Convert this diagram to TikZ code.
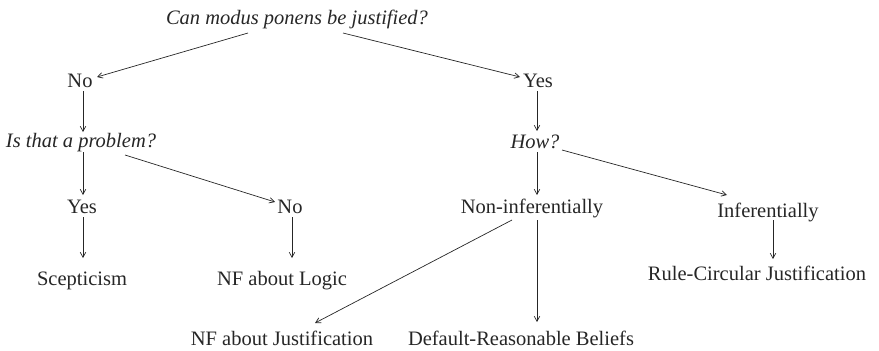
\documentclass[tikz,border=0pt]{standalone}
\usepackage{fontspec}
\setmainfont{Liberation Serif}
\usetikzlibrary{arrows.meta,calc}
\begin{document}
\begin{tikzpicture}[x=1pt,y=-1pt,
  lbl/.style={anchor=base,inner sep=0pt,font=\fontsize{20.5}{24}\selectfont,text=black!85},
  qlbl/.style={lbl,font=\fontsize{20.5}{24}\selectfont\itshape},
  arr/.style={draw=black!85,line width=0.7pt,-{Straight Barb[length=5pt,width=5.5pt]}}]
\useasboundingbox (0,0) rectangle (879,351);
% nodes (placed at baseline)
\node[qlbl] (q1) at (297,24) {Can modus ponens be justified?};
\node[lbl] (no1) at (80,87) {No};
\node[lbl] (yes1) at (538,87) {Yes};
\node[qlbl] (q2) at (81,147) {Is that a problem?};
\node[qlbl] (how) at (535,148) {How?};
\node[lbl] (yes2) at (82,213) {Yes};
\node[lbl] (no2) at (290,213) {No};
\node[lbl] (non) at (532,213) {Non-inferentially};
\node[lbl] (inf) at (768,217) {Inferentially};
\node[lbl] (scep) at (82,285) {Scepticism};
\node[lbl] (nfl) at (282,285) {NF about Logic};
\node[lbl] (rule) at (757,280) {Rule-Circular Justification};
\node[lbl] (nfj) at (282,345) {NF about Justification};
\node[lbl] (def) at (521,345) {Default-Reasonable Beliefs};
% connectors
\draw[arr] ($(q1.base)+(-49,9)$) -- ($(no1.base)+(17,-10)$);
\draw[arr] ($(q1.base)+(46,9)$) -- ($(yes1.base)+(-18,-10)$);
\draw[arr] ($(no1.base)+(3,4)$) -- ($(q2.base)+(2,-15)$);
\draw[arr] ($(yes1.base)+(-1,4)$) -- ($(how.base)+(2,-17)$);
\draw[arr] ($(q2.base)+(2,5)$) -- ($(yes2.base)+(1,-18)$);
\draw[arr] ($(q2.base)+(44,8)$) -- ($(no2.base)+(-15,-11)$);
\draw[arr] ($(yes2.base)+(1,4)$) -- ($(scep.base)+(1,-27)$);
\draw[arr] ($(no2.base)+(2,4)$) -- ($(nfl.base)+(10,-27)$);
\draw[arr] ($(how.base)+(2,4)$) -- ($(non.base)+(5,-18)$);
\draw[arr] ($(how.base)+(27,2)$) -- ($(inf.base)+(-41,-22)$);
\draw[arr] ($(non.base)+(-20,7)$) -- ($(nfj.base)+(33,-22)$);
\draw[arr] ($(non.base)+(5,7)$) -- ($(def.base)+(16,-23)$);
\draw[arr] ($(inf.base)+(5,3)$) -- ($(rule.base)+(16,-21)$);
\end{tikzpicture}
\end{document}
